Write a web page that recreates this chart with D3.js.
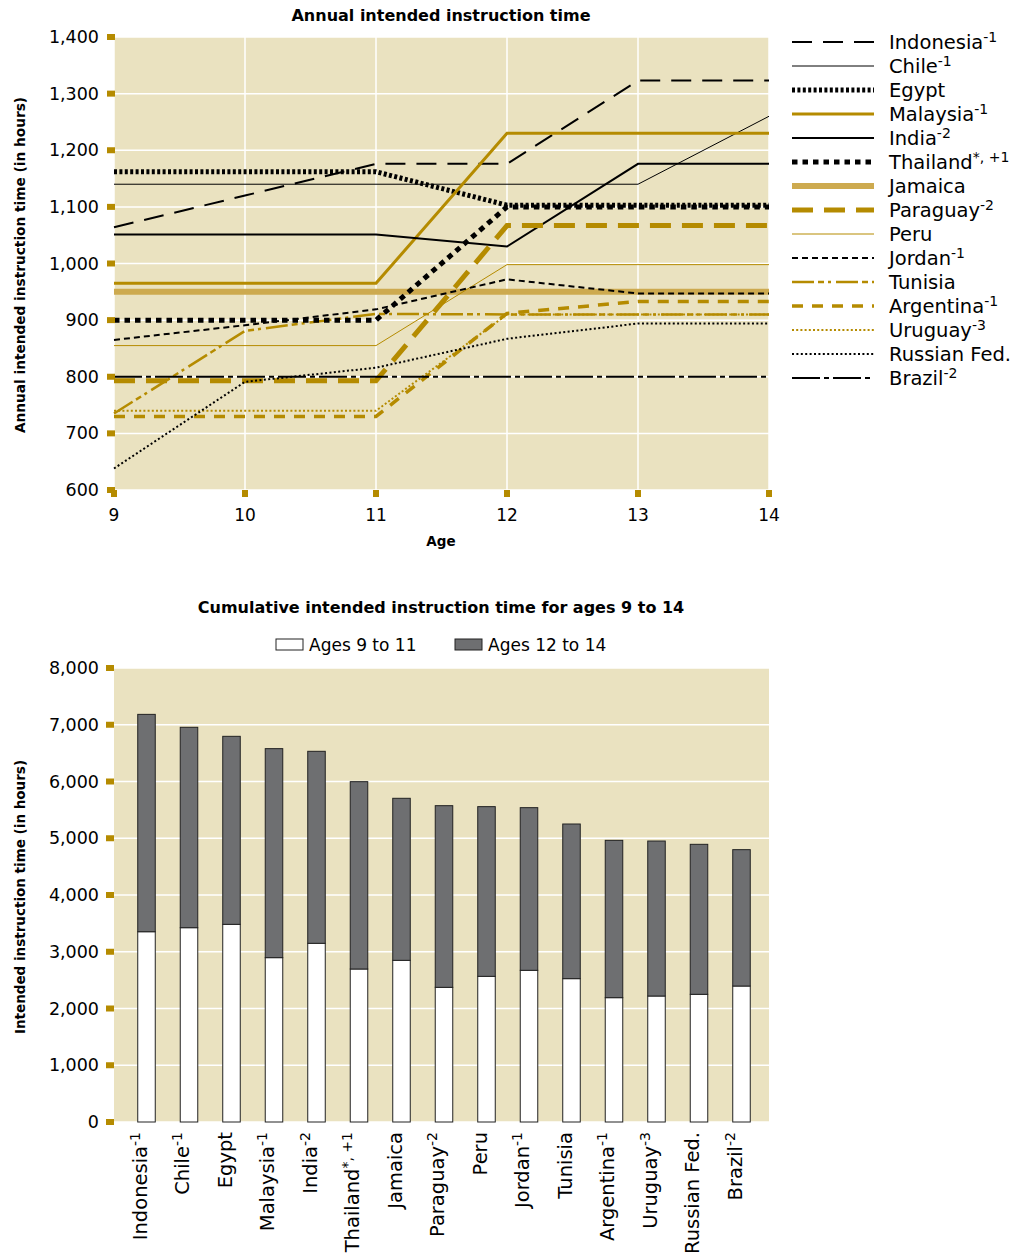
<!DOCTYPE html>
<html><head><meta charset="utf-8">
<script src="https://cdn.jsdelivr.net/npm/d3@7"></script>
<style>body{margin:0;background:#fff}svg{display:block}text{font-family:"DejaVu Sans",sans-serif;fill:#000}</style>
</head><body><svg id="c" width="1016" height="1253"></svg>
<script>
const countries = ["Indonesia","Chile","Egypt","Malaysia","India","Thailand","Jamaica","Paraguay","Peru","Jordan","Tunisia","Argentina","Uruguay","Russian Fed.","Brazil"];
const sups = ["-1","-1","","-1","-2","*, +1","","-2","","-1","","-1","-3","","-2"];
const ages = [9,10,11,12,13,14];
const yTicksTop = [600,700,800,900,1000,1100,1200,1300,1400];
const yTicksBottom = [0,1000,2000,3000,4000,5000,6000,7000,8000];
const annualHours = [
  [1064,1120,1176,1176,1323,1323],
  [1140,1140,1140,1140,1140,1260],
  [1162,1162,1162,1103,1103,1103],
  [965,965,965,1230,1230,1230],
  [1051,1051,1051,1030,1176,1176],
  [900,900,900,1100,1100,1100],
  [950,950,950,950,950,950],
  [793,793,793,1067,1067,1067],
  [855,855,855,998,998,998],
  [865,891,919,972,947,947],
  [735,881,911,910,910,910],
  [730,730,730,912,933,933],
  [740,740,740,910,910,910],
  [638,791,816,867,894,894],
  [800,800,800,800,800,800]
];
const cum9to11 = [3353,3424,3483,2896,3149,2696,2849,2373,2567,2673,2526,2191,2220,2250,2396];
const cum12to14 = [3830,3531,3313,3683,3383,3301,2855,3201,2990,2866,2725,2772,2731,2643,2403];
const seriesNames = ["Ages 9 to 11","Ages 12 to 14"];

const GOLD="#B58B00", LGOLD="#CDAA4F", BG="#EAE2C0", BLACK="#000";
const styles = [
  {c:BLACK,w:2,d:"20,11"},
  {c:BLACK,w:1,d:null},
  {c:BLACK,w:5,d:"3,2.4"},
  {c:GOLD,w:3,d:null},
  {c:BLACK,w:2,d:null},
  {c:BLACK,w:5,d:"5.5,5"},
  {c:LGOLD,w:6,d:null},
  {c:GOLD,w:5,d:"21,11"},
  {c:GOLD,w:1,d:null},
  {c:BLACK,w:2,d:"6,4"},
  {c:GOLD,w:2.5,d:"22,4,6,4,3,5"},
  {c:GOLD,w:3.5,d:"11,9"},
  {c:GOLD,w:2,d:"2,2.2"},
  {c:BLACK,w:2,d:"2,2.4"},
  {c:BLACK,w:2,d:"28,4,5,4"}
];

const svg = d3.select("#c");

function addLabel(sel, i, supSize, dy){
  sel.append("tspan").text(countries[i]);
  if(sups[i]) sel.append("tspan").attr("font-size",supSize).attr("dy",dy).text(sups[i]);
}

// ---------- TOP CHART ----------
const x1 = d3.scaleLinear().domain([9,14]).range([114,769]);
const y1 = d3.scaleLinear().domain([600,1400]).range([490,37]);
const g1 = svg.append("g");
g1.append("rect").attr("x",x1(9)).attr("y",y1(1400)).attr("width",x1(14)-x1(9)).attr("height",y1(600)-y1(1400)).attr("fill",BG);
g1.selectAll(".hg").data(yTicksTop).join("line").attr("x1",x1(9)).attr("x2",x1(14)).attr("y1",d=>y1(d)).attr("y2",d=>y1(d)).attr("stroke","#fff").attr("stroke-width",1.5);
g1.selectAll(".vg").data(ages).join("line").attr("x1",d=>x1(d)).attr("x2",d=>x1(d)).attr("y1",y1(600)).attr("y2",y1(1400)).attr("stroke","#fff").attr("stroke-width",1.5);

const line = d3.line().x((d,i)=>x1(ages[i])).y(d=>y1(d));
const drawOrder = [6,1,8,0,2,3,4,7,9,10,11,12,13,14,5];
drawOrder.forEach(i=>{
  g1.append("path").attr("d",line(annualHours[i])).attr("fill","none")
    .attr("stroke",styles[i].c).attr("stroke-width",styles[i].w)
    .attr("stroke-dasharray",styles[i].d).attr("stroke-linejoin","miter");
});
// y ticks
g1.selectAll(".yt").data(yTicksTop).join("rect").attr("x",107).attr("y",d=>y1(d)-3).attr("width",8).attr("height",6).attr("fill",GOLD);
g1.selectAll(".yl").data(yTicksTop).join("text").attr("x",99).attr("y",d=>y1(d)+6).attr("text-anchor","end").attr("font-size",17.5).text(d3.format(","));
// x ticks
g1.selectAll(".xt").data(ages).join("rect").attr("x",d=>x1(d)-3).attr("y",490).attr("width",6).attr("height",7).attr("fill",GOLD);
g1.selectAll(".xl").data(ages).join("text").attr("x",d=>x1(d)).attr("y",521).attr("text-anchor","middle").attr("font-size",17).text(d=>d);
g1.append("text").attr("x",441).attr("y",546).attr("text-anchor","middle").attr("font-size",13.5).attr("font-weight","bold").text("Age");
g1.append("text").attr("x",441).attr("y",21).attr("text-anchor","middle").attr("font-size",16).attr("font-weight","bold").text("Annual intended instruction time");
g1.append("text").attr("transform","translate(25,265) rotate(-90)").attr("text-anchor","middle").attr("font-size",13.7).attr("font-weight","bold").text("Annual intended instruction time (in hours)");

// legend
const ly = d3.scaleLinear().domain([0,14]).range([42,378]);
countries.forEach((c,i)=>{
  const s = styles[i];
  g1.append("line").attr("x1",792).attr("x2",874).attr("y1",ly(i)).attr("y2",ly(i))
    .attr("stroke",s.c).attr("stroke-width",s.w).attr("stroke-dasharray",s.d);
  const t = g1.append("text").attr("x",889).attr("y",ly(i)+7).attr("font-size",19.5);
  addLabel(t,i,14,-7);
});

// ---------- BOTTOM CHART ----------
const xb = d3.scaleBand().domain(countries).range([125.25,762.75]).paddingInner(0.588).paddingOuter(0.294);
const yb = d3.scaleLinear().domain([0,8000]).range([1122,668]);
const g2 = svg.append("g");
g2.append("rect").attr("x",114).attr("y",yb(8000)).attr("width",769-114).attr("height",yb(0)-yb(8000)).attr("fill",BG);
g2.selectAll(".hg").data(yTicksBottom).join("line").attr("x1",114).attr("x2",769).attr("y1",d=>yb(d)).attr("y2",d=>yb(d)).attr("stroke","#fff").attr("stroke-width",1.5);
const bw = xb.bandwidth();
g2.selectAll(".b1").data(countries).join("rect").attr("x",d=>xb(d)).attr("y",(d,i)=>yb(cum9to11[i])).attr("width",bw).attr("height",(d,i)=>yb(0)-yb(cum9to11[i])).attr("fill","#fff").attr("stroke","#222").attr("stroke-width",1);
g2.selectAll(".b2").data(countries).join("rect").attr("x",d=>xb(d)).attr("y",(d,i)=>yb(cum9to11[i]+cum12to14[i])).attr("width",bw).attr("height",(d,i)=>yb(cum9to11[i])-yb(cum9to11[i]+cum12to14[i])).attr("fill","#6E6F71").attr("stroke","#222").attr("stroke-width",1);
g2.selectAll(".yt").data(yTicksBottom).join("rect").attr("x",106).attr("y",d=>yb(d)-3).attr("width",8).attr("height",6).attr("fill",GOLD);
g2.selectAll(".yl").data(yTicksBottom).join("text").attr("x",99).attr("y",d=>yb(d)+6).attr("text-anchor","end").attr("font-size",17.5).text(d3.format(","));
countries.forEach((c,i)=>{
  const cx = xb(c)+bw/2;
  const t = g2.append("text").attr("transform",`translate(${cx},1132) rotate(-90)`).attr("text-anchor","end").attr("font-size",19.5);
  addLabel(t,i,14,-7);
});
g2.append("text").attr("x",441).attr("y",613).attr("text-anchor","middle").attr("font-size",16).attr("font-weight","bold").text("Cumulative intended instruction time for ages 9 to 14");
g2.append("text").attr("transform","translate(25,897) rotate(-90)").attr("text-anchor","middle").attr("font-size",13.5).attr("font-weight","bold").text("Intended instruction time (in hours)");
// legend
const legX = [276,455], legFill=["#fff","#6E6F71"];
seriesNames.forEach((n,i)=>{
  g2.append("rect").attr("x",legX[i]).attr("y",639).attr("width",27).attr("height",11).attr("fill",legFill[i]).attr("stroke","#222").attr("stroke-width",1);
  g2.append("text").attr("x",legX[i]+33).attr("y",651).attr("font-size",17).text(n);
});
</script></body></html>
